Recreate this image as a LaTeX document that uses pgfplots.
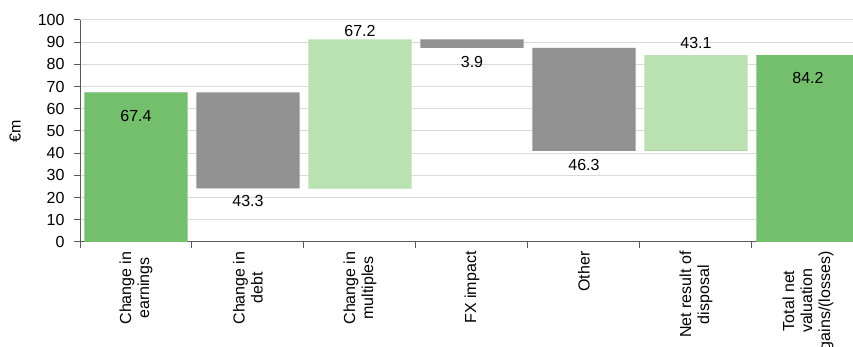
\documentclass[border=0pt]{standalone}
\usepackage{pgfplots}
\usepackage{pgfplotstable}
\pgfplotsset{compat=1.18}
\usepackage{fontspec}
\setmainfont{Liberation Sans}
\definecolor{dgreen}{HTML}{73BF6B}
\definecolor{lgreen}{HTML}{B9E1B2}
\definecolor{bgray}{HTML}{929292}
\definecolor{gridc}{HTML}{D9D9D9}
\definecolor{axc}{HTML}{595959}
\pgfplotstableread{
x low green gray light
0 0 67.4 0 0
1 24.1 0 43.3 0
2 24.1 0 0 67.2
3 87.4 0 3.9 0
4 41.1 0 46.3 0
5 41.1 0 0 43.1
6 0 84.2 0 0
}\wf
\pgfplotstableread{
x y lab
0 56.8 67.4
1 18.3 43.3
2 95.0 67.2
3 81.2 3.9
4 34.8 46.3
5 89.5 43.1
6 73.8 84.2
}\labs
\begin{document}
\begin{tikzpicture}[x=1pt,y=1pt]
\useasboundingbox (0,0) rectangle (853,347);
\begin{axis}[
  at={(80pt,105pt)}, anchor=south west,
  scale only axis, width=773pt, height=222pt,
  xmin=-0.5, xmax=6.402, ymin=0, ymax=100,
  stack plots=y,
  axis x line*=bottom, axis y line*=left,
  axis line style={axc, line width=1pt},
  tick align=outside, major tick length=6pt,
  ytick={0,10,...,100},
  ymajorgrids, grid style={gridc, line width=1pt},
  ytick style={draw=axc, line width=1pt},
  xtick={0,...,6},
  xticklabels={{Change in\\earnings},{Change in\\debt},{Change in\\multiples},{FX impact},{Other},{Net result of\\disposal},{Total net\\valuation\\gains/(losses)}},
  xtick style={draw=none},
  extra x ticks={-0.5,0.5,1.5,2.5,3.5,4.5,5.5},
  extra x tick labels={},
  extra x tick style={xtick style={draw=axc, line width=1pt}, grid=none},
  xticklabel style={rotate=90, anchor=east, align=center, font=\fontsize{16}{18}\selectfont},
  yticklabel style={font=\fontsize{16}{18}\selectfont, xshift=-6pt},
  /pgf/number format/assume math mode=true,
  ylabel={€m},
  ylabel style={at={(axis description cs:-0.084,0.5)}, anchor=center, font=\fontsize{16}{18}\selectfont},
  barsty/.style={ybar, bar width=0.92, bar shift=0pt},
]
\addplot[barsty, fill=none, draw=none] table[x=x,y=low]{\wf};
\addplot[barsty, fill=dgreen, draw=none] table[x=x,y=green]{\wf};
\addplot[barsty, fill=bgray, draw=none] table[x=x,y=gray]{\wf};
\addplot[barsty, fill=lgreen, draw=none] table[x=x,y=light]{\wf};
\addplot[stack plots=false, only marks, mark=none,
  nodes near coords, point meta=explicit symbolic,
  nodes near coords style={anchor=center, font=\fontsize{16}{18}\selectfont, text=black}]
  table[x=x,y=y,meta=lab]{\labs};
\end{axis}
\end{tikzpicture}
\end{document}
